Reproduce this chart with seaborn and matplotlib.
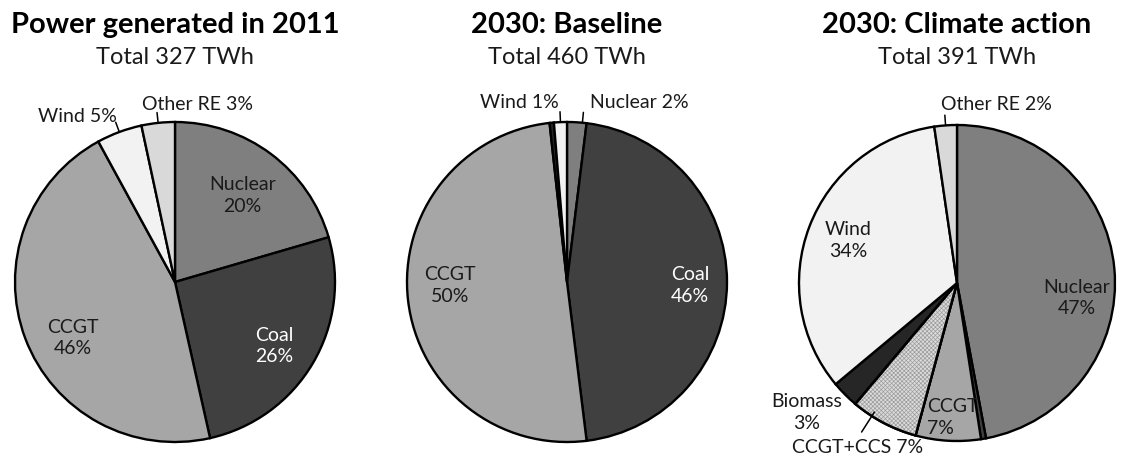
import numpy as np
import matplotlib
matplotlib.use("Agg")
import matplotlib.pyplot as plt
from matplotlib.patches import Wedge
import seaborn as sns

sns.set_theme(style="white")
plt.rcParams["font.family"] = ["Lato", "DejaVu Sans"]
plt.rcParams["hatch.linewidth"] = 0.5

# ---------------- data ----------------
titles = ["Power generated in 2011", "2030: Baseline", "2030: Climate action"]
totals = [327, 460, 391]

pie1_cats = ["Nuclear", "Coal", "CCGT", "Wind", "Other RE"]
pie1_twh = [67, 85, 149, 15, 11]

pie2_cats = ["Nuclear", "Coal", "CCGT", "Biomass", "Wind"]
pie2_twh = [9, 212, 231, 2, 6]

pie3_cats = ["Nuclear", "Coal", "CCGT", "CCGT+CCS", "Biomass", "Wind", "Other RE"]
pie3_twh = [184, 2, 26, 27, 11, 132, 9]

colors = {
    "Nuclear": "#7f7f7f",
    "Coal": "#404040",
    "CCGT": "#a6a6a6",
    "CCGT+CCS": "#dcdcdc",
    "Biomass": "#262626",
    "Wind": "#f2f2f2",
    "Other RE": "#d9d9d9",
}

# label layout: category -> (x, y, mode, leader angle offset in degrees)
layouts = [
    {"Nuclear": (0.42, 0.54, "in", 0), "Coal": (0.62, -0.40, "in", 0), "CCGT": (-0.64, -0.35, "in", 0),
     "Wind": (-0.61, 1.035, "out", 0), "Other RE": (0.14, 1.11, "out", 0)},
    {"Wind": (-0.30, 1.12, "out", 0), "Nuclear": (0.45, 1.12, "out", -2),
     "CCGT": (-0.73, -0.02, "in", 0), "Coal": (0.77, -0.02, "in", 0)},
    {"Other RE": (0.25, 1.13, "out", 0), "Wind": (-0.69, 0.27, "in", 0), "Nuclear": (0.76, -0.095, "in", 0),
     "CCGT": (-0.025, -0.85, "inl", 0), "Biomass": (-0.95, -0.82, "in", 0),
     "CCGT+CCS": (-0.63, -1.04, "out", -5)},
]

W, H = 1121, 472
centers = [(175, 282, 160), (567, 282, 160), (957, 283, 158)]
fig = plt.figure(figsize=(W / 100, H / 100), dpi=100)

data = [(pie1_cats, pie1_twh), (pie2_cats, pie2_twh), (pie3_cats, pie3_twh)]
txtcol = "#1a1a1a"

for i, ((cats, vals), (cx, cy, r)) in enumerate(zip(data, centers)):
    lim = 1.12
    ax = fig.add_axes([(cx - lim * r) / W, (H - cy - lim * r) / H, 2 * lim * r / W, 2 * lim * r / H])
    wedges, _ = ax.pie(vals, startangle=90, counterclock=False,
                       colors=[colors[c] for c in cats],
                       wedgeprops=dict(edgecolor="black", linewidth=1.7))
    ax.set_xlim(-lim, lim)
    ax.set_ylim(-lim, lim)
    ax.set_aspect("equal")
    ax.axis("off")
    total = sum(vals)
    for w, c in zip(wedges, cats):
        if c == "CCGT+CCS":
            h = Wedge((0, 0), 1, w.theta1, w.theta2, facecolor="none", edgecolor="#9c9c9c",
                      hatch="xxxxxxxx", linewidth=0)
            ax.add_patch(h)
            outline = Wedge((0, 0), 1, w.theta1, w.theta2, facecolor="none",
                            edgecolor="black", linewidth=1.7)
            ax.add_patch(outline)
    lay = layouts[i]
    for w, c, v in zip(wedges, cats, vals):
        if c not in lay:
            continue
        x, y, mode, off = lay[c]
        pct = int(round(100 * v / total))
        col = "white" if c == "Coal" else txtcol
        if mode == "in":
            ax.text(x, y, f"{c}\n{pct}%", ha="center", va="center", fontsize=14,
                    color=col, linespacing=1.35)
        elif mode == "inl":
            ax.text(x, y, f"{c}\n{pct}%", ha="center", va="center", fontsize=14,
                    color=col, linespacing=1.35, multialignment="left")
        else:
            mid = np.deg2rad((w.theta1 + w.theta2) / 2 + off)
            r0, r1 = 1.0, 1.065
            if c == "CCGT+CCS":
                r0, r1 = 0.97, 1.12
            ax.plot([r0 * np.cos(mid), r1 * np.cos(mid)], [r0 * np.sin(mid), r1 * np.sin(mid)],
                    color="black", lw=1.1, clip_on=False, zorder=5)
            ax.text(x, y, f"{c} {pct}%", ha="center", va="center", fontsize=14, color=txtcol)
    fig.text(cx / W, 1 - 25 / H, titles[i], ha="center", va="center", fontsize=21,
             fontweight="bold", color="black")
    fig.text(cx / W, 1 - 58 / H, f"Total {totals[i]} TWh", ha="center", va="center",
             fontsize=17, color=txtcol)

fig.savefig("out.png", dpi=100, facecolor="white")
